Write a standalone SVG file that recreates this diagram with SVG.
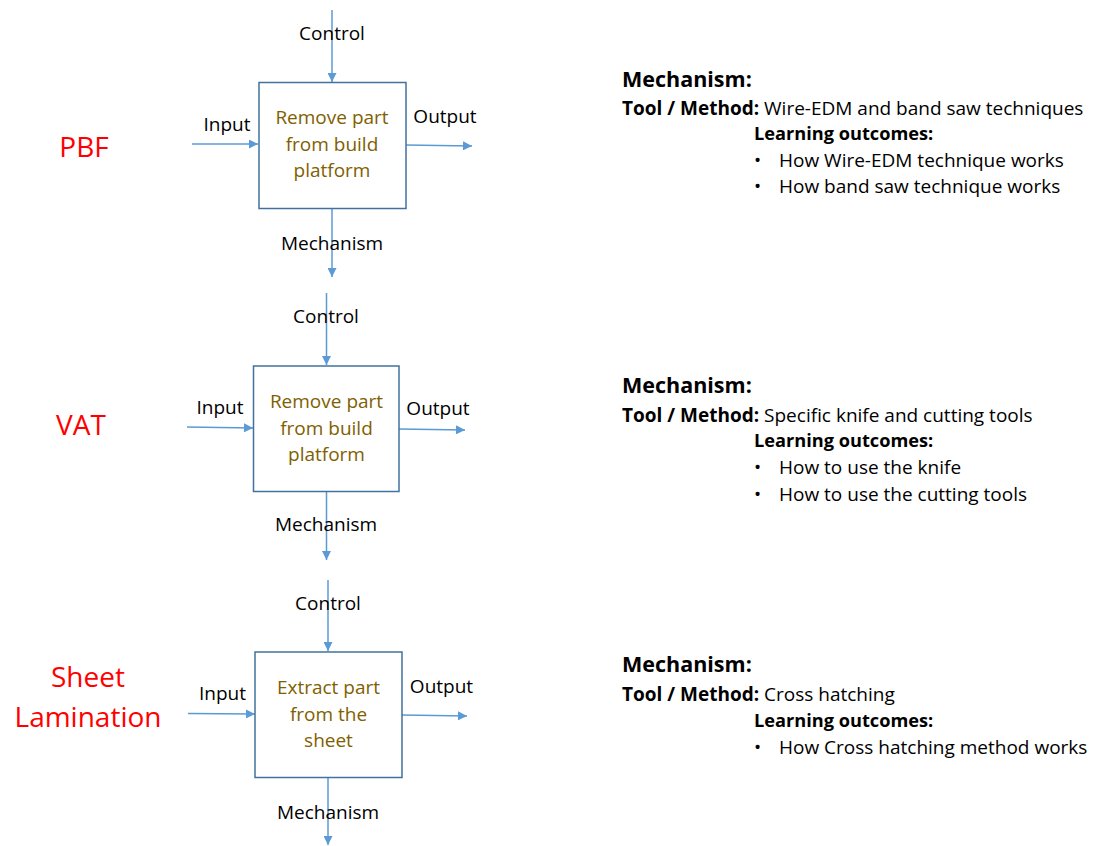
<svg xmlns="http://www.w3.org/2000/svg" width="1094" height="846" viewBox="0 0 1094 846">
<defs>
<marker id="ah" viewBox="0 0 10 10" refX="10" refY="5" markerWidth="10" markerHeight="9" markerUnits="userSpaceOnUse" orient="auto">
<path d="M0,0 L10,5 L0,10 Z" fill="#5B9BD5"/>
</marker>
<style>
.c{stroke:#5B9BD5;stroke-width:1.5;fill:none;marker-end:url(#ah)}
.box{fill:#fff;stroke:#41719C;stroke-width:1.5}
.t{font-family:"Open Sans","Liberation Sans",sans-serif;font-size:19px;fill:#000}
.m{text-anchor:middle}
.bt{font-family:"Open Sans","Liberation Sans",sans-serif;font-size:19px;fill:#7F6000;text-anchor:middle}
.red{font-family:"Open Sans","Liberation Sans",sans-serif;font-size:28px;fill:#FF0000;text-anchor:middle}
.b{font-weight:bold}
.h{font-size:21.5px}
.lo{font-size:18.2px}
</style>
</defs>
<rect width="1094" height="846" fill="#fff"/>
<g id="connectors">
<line class="c" x1="332" y1="10" x2="332" y2="82"/>
<line class="c" x1="192" y1="144" x2="258" y2="144"/>
<line class="c" x1="406" y1="145" x2="472" y2="146"/>
<line class="c" x1="332" y1="208" x2="332" y2="277"/>
<line class="c" x1="326.5" y1="293" x2="326.5" y2="365"/>
<line class="c" x1="187" y1="427" x2="253" y2="428"/>
<line class="c" x1="399" y1="429" x2="465" y2="430"/>
<line class="c" x1="326.5" y1="491" x2="326.5" y2="560"/>
<line class="c" x1="328" y1="580" x2="328" y2="651"/>
<line class="c" x1="188" y1="713.5" x2="255" y2="714"/>
<line class="c" x1="402" y1="715" x2="467" y2="716"/>
<line class="c" x1="328" y1="777" x2="328" y2="845"/>
</g>
<g id="node-pbf">
<text class="red" x="84" y="157">PBF</text>
<rect class="box" x="259" y="82.5" width="147" height="126"/>
<text class="bt" x="332" y="124">Remove part</text>
<text class="bt" x="332" y="151">from build</text>
<text class="bt" x="332" y="177">platform</text>
<text class="t m" x="332" y="40">Control</text>
<text class="t m" x="227" y="131">Input</text>
<text class="t m" x="445" y="123">Output</text>
<text class="t m" x="332" y="250">Mechanism</text>
</g>
<g id="node-vat">
<text class="red" x="81" y="435">VAT</text>
<rect class="box" x="253.5" y="366" width="145.5" height="125.5"/>
<text class="bt" x="326.5" y="408">Remove part</text>
<text class="bt" x="326.5" y="434.5">from build</text>
<text class="bt" x="326.5" y="461">platform</text>
<text class="t m" x="326" y="323">Control</text>
<text class="t m" x="220" y="414">Input</text>
<text class="t m" x="438" y="415">Output</text>
<text class="t m" x="326" y="531">Mechanism</text>
</g>
<g id="node-sheet">
<text class="red" x="88" y="687">Sheet</text>
<text class="red" x="88" y="727">Lamination</text>
<rect class="box" x="255" y="652" width="147" height="125.5"/>
<text class="bt" x="328.5" y="694">Extract part</text>
<text class="bt" x="328.5" y="720.5">from the</text>
<text class="bt" x="328.5" y="747">sheet</text>
<text class="t m" x="328" y="610">Control</text>
<text class="t m" x="222.5" y="700">Input</text>
<text class="t m" x="441.5" y="693">Output</text>
<text class="t m" x="328" y="819">Mechanism</text>
</g>
<g id="desc-pbf">
<text class="t b h" x="622" y="87">Mechanism:</text>
<text class="t" x="622" y="115"><tspan class="b">Tool / Method:</tspan> Wire-EDM and band saw techniques</text>
<text class="t b lo" x="754" y="140">Learning outcomes:</text>
<text class="t" x="754" y="167">•</text><text class="t" x="779" y="167">How Wire-EDM technique works</text>
<text class="t" x="754" y="193">•</text><text class="t" x="779" y="193">How band saw technique works</text>
</g>
<g id="desc-vat">
<text class="t b h" x="622" y="393">Mechanism:</text>
<text class="t" x="622" y="422"><tspan class="b">Tool / Method:</tspan> Specific knife and cutting tools</text>
<text class="t b lo" x="754" y="447">Learning outcomes:</text>
<text class="t" x="754" y="474">•</text><text class="t" x="779" y="474">How to use the knife</text>
<text class="t" x="754" y="501">•</text><text class="t" x="779" y="501">How to use the cutting tools</text>
</g>
<g id="desc-sheet">
<text class="t b h" x="622" y="672">Mechanism:</text>
<text class="t" x="622" y="701"><tspan class="b">Tool / Method:</tspan> Cross hatching</text>
<text class="t b lo" x="754" y="727">Learning outcomes:</text>
<text class="t" x="754" y="754">•</text><text class="t" x="779" y="754">How Cross hatching method works</text>
</g>
</svg>
